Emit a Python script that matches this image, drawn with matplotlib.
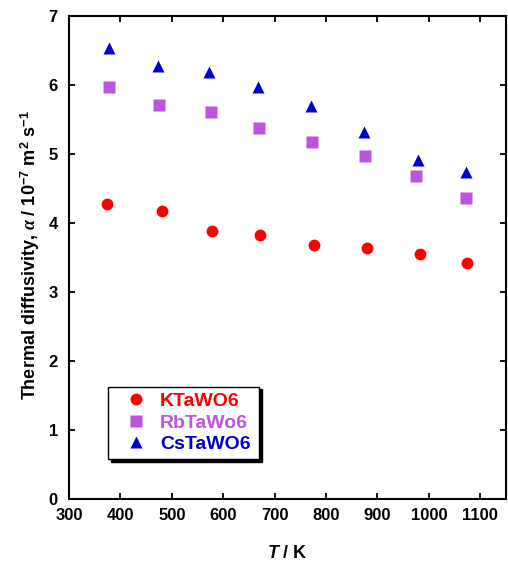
import matplotlib

matplotlib.use("Agg")
import matplotlib.pyplot as plt

plt.rcParams["font.family"] = ["Liberation Sans", "DejaVu Sans"]
plt.rcParams["font.weight"] = "bold"
plt.rcParams["mathtext.fontset"] = "custom"
plt.rcParams["mathtext.rm"] = "Liberation Sans:bold"
plt.rcParams["mathtext.bf"] = "Liberation Sans:bold"
plt.rcParams["mathtext.it"] = "Liberation Serif:italic"
plt.rcParams["mathtext.bfit"] = "Liberation Sans:italic:bold"

# thermal diffusivity vs temperature for the three tungstates
t_k = [373, 481, 578, 672, 776, 880, 982, 1075]
alpha_k = [4.27, 4.17, 3.88, 3.83, 3.68, 3.64, 3.55, 3.42]

t_rb = [378, 476, 576, 670, 773, 876, 975, 1073]
alpha_rb = [5.97, 5.71, 5.61, 5.37, 5.17, 4.97, 4.68, 4.36]

t_cs = [377, 473, 572, 668, 771, 874, 979, 1072]
alpha_cs = [6.53, 6.28, 6.19, 5.97, 5.69, 5.32, 4.91, 4.74]

labels = ["KTaWO6", "RbTaWo6", "CsTaWO6"]
colors = ["#ff0000", "#bb55dd", "#0000cc"]

fig = plt.figure(figsize=(5.08, 5.62), dpi=100)
ax = fig.add_axes([0.1358, 0.112, 0.8602, 0.8595])

ax.plot(t_k, alpha_k, "o", color=colors[0], ms=8.5, mec="none", label=labels[0])
ax.plot(t_rb, alpha_rb, "s", color=colors[1], ms=8.5, mec="none", label=labels[1])
ax.plot(t_cs, alpha_cs, "^", color=colors[2], ms=9, mec="none", label=labels[2])

ax.set_xlim(300, 1150)
ax.set_ylim(0, 7)
ax.set_xticks(range(300, 1101, 100))
ax.set_yticks(range(0, 8))
ax.tick_params(direction="in", top=True, right=True, length=4, width=1.3,
               labelsize=12)
ax.tick_params(axis="x", pad=6.5)
ax.tick_params(axis="y", pad=8)
for s in ax.spines.values():
    s.set_linewidth(1.5)

ax.set_xlabel(r"$\mathbfit{T}$ / K", fontsize=13, fontweight="bold", labelpad=16)
ax.set_ylabel(r"Thermal diffusivity, $\alpha$ / 10$^{-7}$ m$^{2}$ s$^{-1}$",
              fontsize=13, fontweight="bold")
ax.yaxis.set_label_coords(-0.062, 0.505)

leg = ax.legend(loc="lower left", bbox_to_anchor=(0.089, 0.083, 0.346, 0.153),
                mode="expand", fontsize=14, frameon=True, fancybox=False,
                shadow={"color": "black", "alpha": 1.0}, handletextpad=0.1,
                borderaxespad=0, labelspacing=0.2, handlelength=2.29,
                borderpad=0.3)
leg.get_frame().set_edgecolor("black")
leg.get_frame().set_linewidth(1.0)
for txt, c in zip(leg.get_texts(), colors):
    txt.set_color(c)

fig.savefig("out.png", dpi=100)
